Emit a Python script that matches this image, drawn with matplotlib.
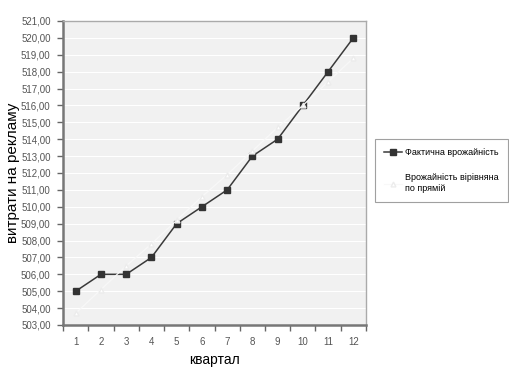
import matplotlib.pyplot as plt
from matplotlib.ticker import FuncFormatter, FixedLocator

plt.rcParams['font.family'] = ['Liberation Sans', 'DejaVu Sans']

quarters = [1, 2, 3, 4, 5, 6, 7, 8, 9, 10, 11, 12]
actual = [505, 506, 506, 507, 509, 510, 511, 513, 514, 516, 518, 520]
trend = [503.7, 505.1, 506.5, 507.8, 509.2, 510.6, 511.9, 513.3, 514.7, 516.0, 517.4, 518.8]
label_actual = 'Фактична врожайність'
label_trend = 'Врожайність вірівняна\nпо прямій'

fig = plt.figure(figsize=(5.09, 3.81), dpi=100)
ax = fig.add_axes([0.124, 0.147, 0.595, 0.798])
ax.set_facecolor('#f1f1f1')

# horizontal white grid like the Excel template
ax.yaxis.grid(True, color='white', linewidth=0.8)
ax.set_axisbelow(True)

ax.plot(quarters, actual, color='#3a3a3a', linewidth=1.1, marker='s',
        markersize=5, markerfacecolor='#333333', markeredgecolor='#333333',
        label=label_actual, zorder=3)
ax.plot(quarters, trend, color='#f8f8f8', linewidth=0.9, marker='^',
        markersize=3.5, markerfacecolor='white', markeredgecolor='#ececec',
        label=label_trend, zorder=4)

ax.set_xlim(0.5, 12.5)
ax.set_ylim(503, 521)
ax.set_yticks(range(503, 522))
ax.yaxis.set_major_formatter(FuncFormatter(lambda v, p: f'{v:.2f}'.replace('.', ',')))
ax.set_xticks(quarters)
ax.xaxis.set_minor_locator(FixedLocator([q + 0.5 for q in range(0, 13)]))
ax.tick_params(axis='x', which='major', length=0, pad=9, labelsize=7, labelcolor='#555555')
ax.tick_params(axis='x', which='minor', length=4, width=1, color='#666666', direction='out')
ax.tick_params(axis='y', length=4, width=1, color='#666666', labelsize=7,
               labelcolor='#555555', pad=5)

for side in ['left', 'bottom']:
    ax.spines[side].set_color('#777777')
    ax.spines[side].set_linewidth(1.8)
for side in ['top', 'right']:
    ax.spines[side].set_color('#aaaaaa')
    ax.spines[side].set_linewidth(1.0)

ax.set_xlabel('квартал', fontsize=10, labelpad=4)
ax.set_ylabel('витрати на рекламу', fontsize=11, labelpad=1)

leg = ax.legend(loc='upper left', bbox_to_anchor=(1.02, 0.62), fontsize=6.5,
                frameon=True, fancybox=False, edgecolor='#888888',
                borderpad=1.0, borderaxespad=0.3, labelspacing=1.8,
                handlelength=2.0, handletextpad=0.4)
leg.get_frame().set_linewidth(0.8)

fig.savefig('out.png', dpi=100)
